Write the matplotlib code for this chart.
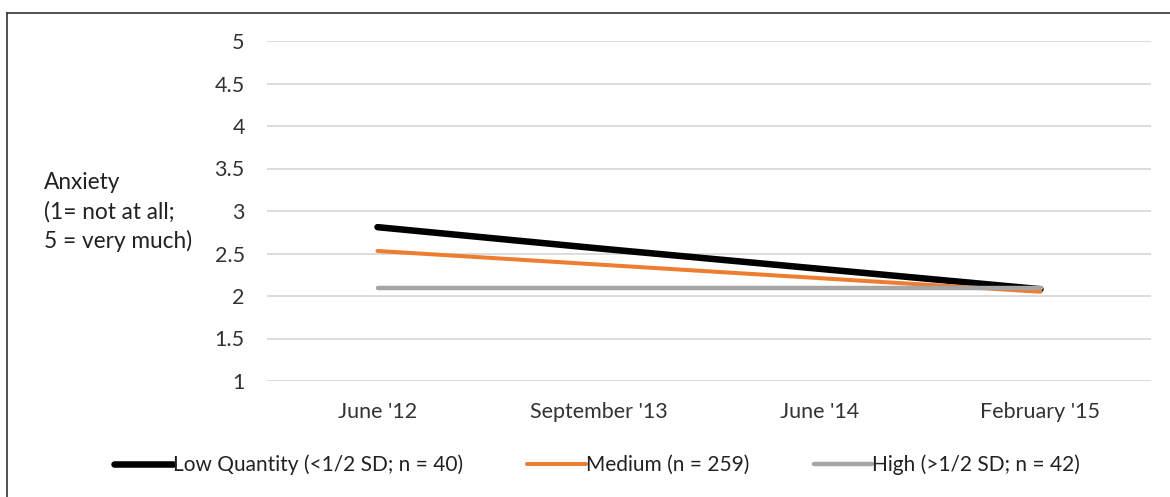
import numpy as np
import matplotlib.pyplot as plt
from matplotlib.lines import Line2D

plt.rcParams['font.family'] = ['Lato', 'DejaVu Sans']

waves = ["June '12", "September '13", "June '14", "February '15"]
low = [2.81, 2.56, 2.32, 2.08]
medium = [2.53, 2.37, 2.21, 2.05]
high = [2.10, 2.10, 2.10, 2.10]

labels = ['Low Quantity (<1/2 SD; n = 40)', 'Medium (n = 259)', 'High (>1/2 SD; n = 42)']
colors = ['#000000', '#ed7d31', '#a5a5a5']
widths = [4.7, 2.9, 3.2]

fig = plt.figure(figsize=(11.7, 4.97), dpi=100)
ax = fig.add_axes([267/1170, 1 - 381/497, (1151-267)/1170, (381-41)/497])

x = np.arange(len(waves))
for ys, c, w, lab in zip([low, medium, high], colors, widths, labels):
    ax.plot(x, ys, color=c, lw=w, solid_capstyle='round', label=lab)

ax.set_xlim(-0.5, len(waves) - 0.5)
ax.set_ylim(1, 5)
ax.set_yticks(np.arange(1, 5.01, 0.5))
ax.set_yticklabels(['1', '1.5', '2', '2.5', '3', '3.5', '4', '4.5', '5'])
ax.set_xticks(x)
ax.set_xticklabels(waves)
ax.grid(axis='y', color='#d9d9d9', lw=1.3)
ax.set_axisbelow(True)
for s in ax.spines.values():
    s.set_visible(False)
ax.tick_params(axis='both', length=0, labelsize=15.5, colors='#333333')
ax.tick_params(axis='y', pad=16)
ax.tick_params(axis='x', pad=15)

fig.text(44/1170, 1 - 212/497, 'Anxiety\n(1= not at all;\n5 = very much)',
         ha='left', va='center', fontsize=16.3, color='#222222', linespacing=1.45)

leg = fig.legend(loc='center', bbox_to_anchor=(597/1170, 1 - 465/497), ncol=3,
                 frameon=False, fontsize=15, handlelength=2.8, handletextpad=0.0,
                 columnspacing=3.1)
for t in leg.get_texts():
    t.set_color('#222222')

# partial border like the source screenshot
fig.add_artist(Line2D([6.5/1170, 6.5/1170], [0, 1 - 12.5/497], color='#333333', lw=1.2))
fig.add_artist(Line2D([6.5/1170, 1], [1 - 12.5/497, 1 - 12.5/497], color='#333333', lw=1.2))

plt.savefig('out.png', dpi=100)
